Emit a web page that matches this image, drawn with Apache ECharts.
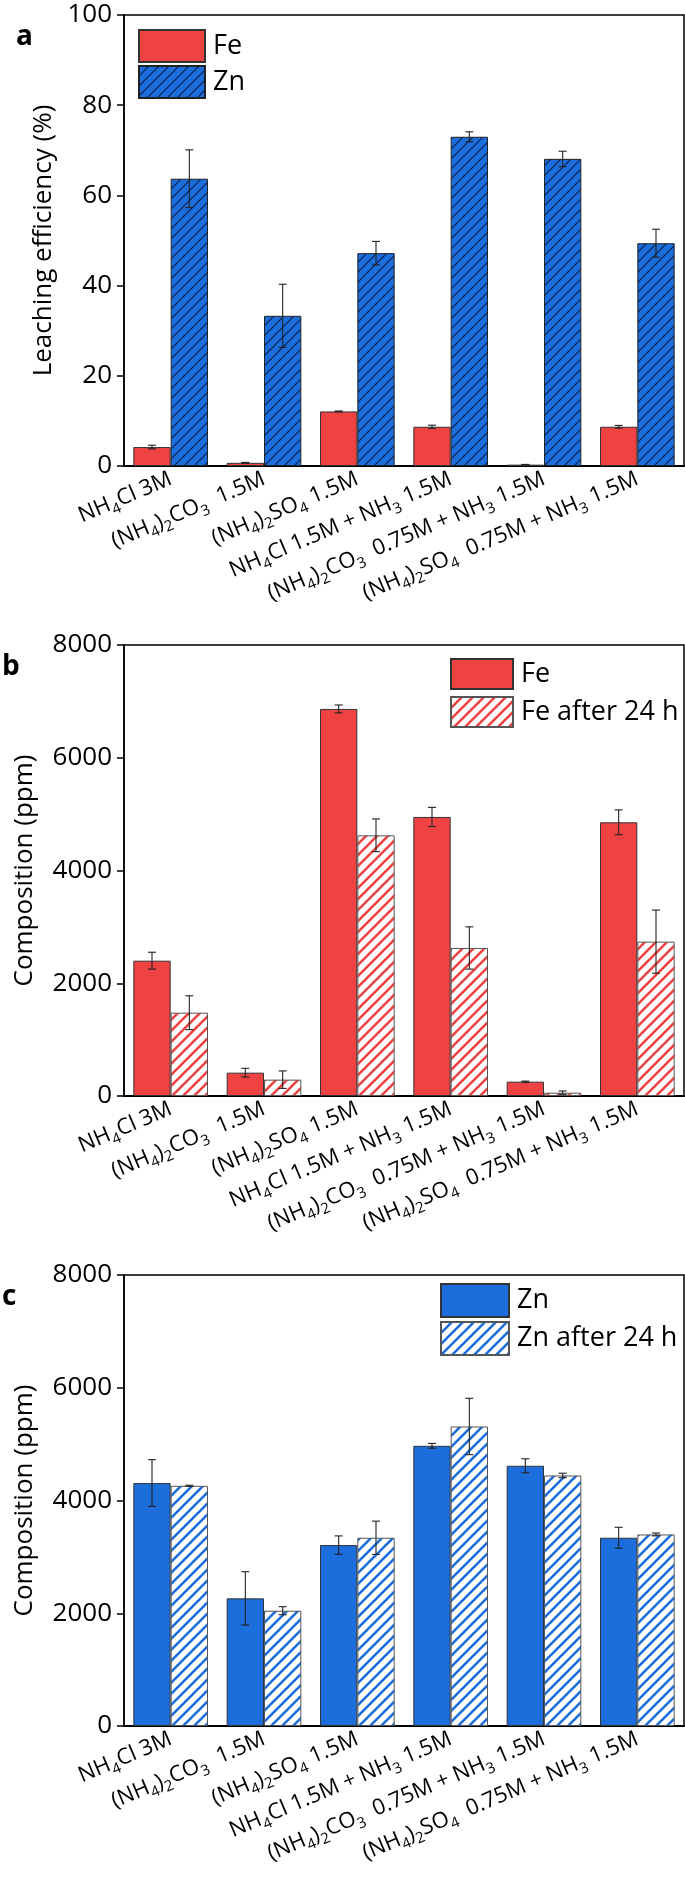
<!DOCTYPE html>
<html><head><meta charset="utf-8">
<script src="https://cdn.jsdelivr.net/npm/echarts@6/dist/echarts.min.js"></script>
<style>
body{margin:0;background:#fff;width:685px;height:1878px;position:relative;overflow:hidden}
.p{position:absolute;left:0;width:685px}
</style></head>
<body>
<div id="a" class="p" style="top:0;height:630px"></div>
<div id="b" class="p" style="top:630px;height:630px"></div>
<div id="c" class="p" style="top:1260px;height:618px"></div>
<script>
// ---------- data ----------
const categories = [
  'NH{s|4}Cl 3M',
  '(NH{s|4}){s|2}CO{s|3}  1.5M',
  '(NH{s|4}){s|2}SO{s|4} 1.5M',
  'NH{s|4}Cl 1.5M + NH{s|3} 1.5M',
  '(NH{s|4}){s|2}CO{s|3}  0.75M + NH{s|3} 1.5M',
  '(NH{s|4}){s|2}SO{s|4}  0.75M + NH{s|3} 1.5M'
];
const leachFe     = [4.2, 0.7, 12.1, 8.7, 0.3, 8.7];
const leachFeErr  = [0.4, 0.1, 0.1, 0.35, 0.05, 0.3];
const leachZn     = [63.7, 33.3, 47.2, 73.0, 68.1, 49.4];
const leachZnErr  = [6.4, 7.0, 2.6, 1.1, 1.7, 3.1];
const compFe      = [2400, 414, 6866, 4950, 254, 4855];
const compFeErr   = [150, 77, 70, 170, 10, 220];
const compFe24    = [1478, 290, 4624, 2626, 59, 2738];
const compFe24Err = [300, 155, 290, 375, 30, 560];
const compZn      = [4309, 2264, 3209, 4970, 4616, 3339];
const compZnErr   = [415, 473, 163, 42, 124, 186];
const compZn24    = [4261, 2045, 3339, 5313, 4444, 3398];
const compZn24Err = [10, 71, 295, 500, 40, 25];

// ---------- styles ----------
const FONT = 'Open Sans';
const RED = '#EF4242';
const BLUE = '#1B6EDC';

function hatch(bg, fg, size, lw) {
  const c = document.createElement('canvas');
  c.width = size; c.height = size;
  const g = c.getContext('2d');
  g.fillStyle = bg; g.fillRect(0, 0, size, size);
  g.strokeStyle = fg; g.lineWidth = lw; g.beginPath();
  g.moveTo(0, size); g.lineTo(size, 0);
  g.moveTo(-size / 2, size / 2); g.lineTo(size / 2, -size / 2);
  g.moveTo(size / 2, size * 1.5); g.lineTo(size * 1.5, size / 2);
  g.stroke();
  return { image: c, repeat: 'repeat' };
}

function errSeries(vals, errs, off) {
  return {
    type: 'custom', silent: true, z: 10,
    data: vals.map((v, i) => [i, v, errs[i]]),
    encode: { x: 0, y: 1 },
    renderItem: (params, api) => {
      const i = api.value(0), v = api.value(1), e = api.value(2);
      const band = api.size([1, 0])[0];
      const cx = api.coord([i, v])[0] + off * band;
      const yh = api.coord([i, v + e])[1];
      const yl = api.coord([i, Math.max(v - e, 0)])[1];
      const w = 4;
      const st = { stroke: '#222', lineWidth: 1.1 };
      return { type: 'group', children: [
        { type: 'line', shape: { x1: cx, y1: yh, x2: cx, y2: yl }, style: st },
        { type: 'line', shape: { x1: cx - w, y1: yh, x2: cx + w, y2: yh }, style: st },
        { type: 'line', shape: { x1: cx - w, y1: yl, x2: cx + w, y2: yl }, style: st }
      ] };
    }
  };
}

function makeChart(id, cfg) {
  const chart = echarts.init(document.getElementById(id), null, { renderer: 'canvas' });
  const series = [];
  cfg.series.forEach((s) => {
    series.push({
      type: 'bar', name: s.name, data: s.data,
      barGap: '0%', barCategoryGap: '20%',
      itemStyle: { color: s.color, borderColor: s.border, borderWidth: 1 }
    });
  });
  cfg.series.forEach((s, k) => {
    series.push(errSeries(s.data, s.err, k === 0 ? -0.2 : 0.2));
  });
  chart.setOption({
    animation: false,
    backgroundColor: '#fff',
    textStyle: { fontFamily: FONT },
    grid: { left: 124, right: 1, top: 15, height: 451, show: true, borderColor: '#000', borderWidth: 1.5, containLabel: false },
    xAxis: {
      type: 'category', data: categories,
      axisLine: { lineStyle: { color: '#000', width: 2 } },
      axisTick: { alignWithLabel: true, length: 7, lineStyle: { color: '#000', width: 1.5 } },
      axisLabel: {
        interval: 0, rotate: 23, margin: 12, fontSize: 22, color: '#000', fontFamily: FONT, lineHeight: 30,
        rich: { s: { fontSize: 15, verticalAlign: 'bottom', lineHeight: 16, fontFamily: FONT, color: '#000' } }
      }
    },
    yAxis: {
      type: 'value', min: 0, max: cfg.max, interval: cfg.interval,
      name: cfg.yName, nameLocation: 'middle', nameGap: cfg.nameGap,
      nameTextStyle: { fontSize: 26, color: '#000', fontFamily: FONT },
      axisLine: { show: true, lineStyle: { color: '#000', width: 1.5 } },
      axisTick: { show: true, length: 7, lineStyle: { color: '#000', width: 1.5 } },
      axisLabel: { fontSize: 26, color: '#000', margin: 12, fontFamily: FONT, formatter: v => String(v) },
      splitLine: { show: false }
    },
    legend: {
      orient: 'vertical', left: cfg.legend.left, top: cfg.legend.top,
      itemWidth: cfg.legend.w, itemHeight: cfg.legend.h, itemGap: cfg.legend.gap,
      icon: 'rect', selectedMode: false,
      textStyle: { fontSize: 27, color: '#000', fontFamily: FONT, padding: [0, 0, 0, 3] },
      data: cfg.series.map(s => s.name)
    },
    graphic: [{ type: 'text', left: cfg.letterX, top: 23,
      style: { text: cfg.letter, fontSize: 28, fontWeight: 'bold', fontFamily: FONT, fill: '#000' } }],
    series: series
  });
}

makeChart('a', {
  max: 100, interval: 20, yName: 'Leaching efficiency (%)', nameGap: 66, letter: 'a', letterX: 16,
  legend: { left: 133, top: 24, w: 66, h: 32, gap: 2 },
  series: [
    { name: 'Fe', data: leachFe, err: leachFeErr, color: RED, border: '#333' },
    { name: 'Zn', data: leachZn, err: leachZnErr, color: hatch(BLUE, '#08204f', 10, 1.2), border: '#222' }
  ]
});
makeChart('b', {
  max: 8000, interval: 2000, yName: 'Composition (ppm)', nameGap: 86, letter: 'b', letterX: 2,
  legend: { left: 445, top: 23, w: 62, h: 30, gap: 6 },
  series: [
    { name: 'Fe', data: compFe, err: compFeErr, color: RED, border: '#333' },
    { name: 'Fe after 24 h', data: compFe24, err: compFe24Err, color: hatch('#fff', RED, 11, 2.6), border: '#555' }
  ]
});
makeChart('c', {
  max: 8000, interval: 2000, yName: 'Composition (ppm)', nameGap: 86, letter: 'c', letterX: 2,
  legend: { left: 435, top: 18, w: 68, h: 33, gap: 3 },
  series: [
    { name: 'Zn', data: compZn, err: compZnErr, color: BLUE, border: '#333' },
    { name: 'Zn after 24 h', data: compZn24, err: compZn24Err, color: hatch('#fff', BLUE, 11, 2.6), border: '#555' }
  ]
});
</script>
</body></html>
